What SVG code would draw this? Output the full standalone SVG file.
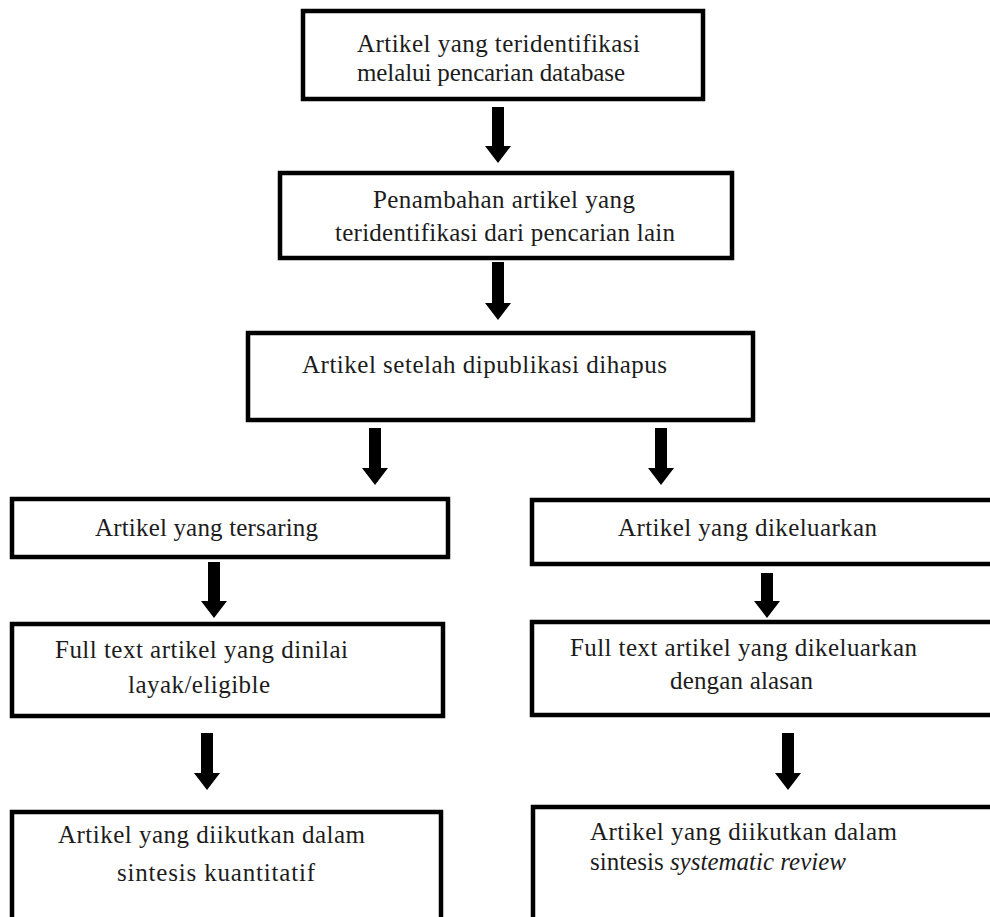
<svg xmlns="http://www.w3.org/2000/svg" width="990" height="917" viewBox="0 0 990 917">
<defs>
<style>
.box{fill:#ffffff;stroke:#000000;stroke-width:4.5}
.t{font-family:"Liberation Serif","Times New Roman",serif;font-size:25px;fill:#1c1c1c}
.it{font-style:italic}
.arr{fill:#000000}
</style>
</defs>
<rect x="0" y="0" width="990" height="917" fill="#ffffff"/>
<g id="n1"><rect class="box" x="303" y="11" width="400" height="88"/>
<text class="t" x="357" y="52" textLength="283">Artikel yang teridentifikasi</text>
<text class="t" x="357" y="81" textLength="268">melalui pencarian database</text></g>
<g id="n2"><rect class="box" x="280" y="173" width="452" height="85"/>
<text class="t" x="373" y="208" textLength="262">Penambahan artikel yang</text>
<text class="t" x="335" y="241" textLength="340">teridentifikasi dari pencarian lain</text></g>
<g id="n3"><rect class="box" x="248" y="333" width="505" height="87"/>
<text class="t" x="302" y="373" textLength="365">Artikel setelah dipublikasi dihapus</text></g>
<g id="n4"><rect class="box" x="12" y="499" width="436" height="58"/>
<text class="t" x="95" y="536" textLength="223">Artikel yang tersaring</text></g>
<g id="n5"><rect class="box" x="532" y="500" width="470" height="64"/>
<text class="t" x="618" y="536" textLength="259">Artikel yang dikeluarkan</text></g>
<g id="n6"><rect class="box" x="12" y="624" width="431" height="92"/>
<text class="t" x="55" y="658" textLength="293">Full text artikel yang dinilai</text>
<text class="t" x="128" y="693" textLength="142">layak/eligible</text></g>
<g id="n7"><rect class="box" x="532" y="622" width="470" height="93"/>
<text class="t" x="570" y="656" textLength="347">Full text artikel yang dikeluarkan</text>
<text class="t" x="670" y="689" textLength="143">dengan alasan</text></g>
<g id="n8"><rect class="box" x="12" y="812" width="429" height="120"/>
<text class="t" x="58" y="843" textLength="307">Artikel yang diikutkan dalam</text>
<text class="t" x="117" y="881" textLength="198">sintesis kuantitatif</text></g>
<g id="n9"><rect class="box" x="533" y="807" width="470" height="125"/>
<text class="t" x="590" y="840" textLength="307">Artikel yang diikutkan dalam</text>
<text class="t" x="590" y="870">sintesis <tspan class="it">systematic review</tspan></text></g>
<g id="connectors">
<path class="arr" d="M492 107H504V146H511L498 163L485 146H492Z"/>
<path class="arr" d="M492 262H504V303H511L498 320L485 303H492Z"/>
<path class="arr" d="M369 428H381V468H388L375 485L362 468H369Z"/>
<path class="arr" d="M655 428H667V468H674L661 485L648 468H655Z"/>
<path class="arr" d="M208 562H220V601H227L214 618L201 601H208Z"/>
<path class="arr" d="M761 573H773V601H780L767 618L754 601H761Z"/>
<path class="arr" d="M201 733H213V773H220L207 790L194 773H201Z"/>
<path class="arr" d="M782 733H794V773H801L788 790L775 773H782Z"/>
</g>
</svg>
